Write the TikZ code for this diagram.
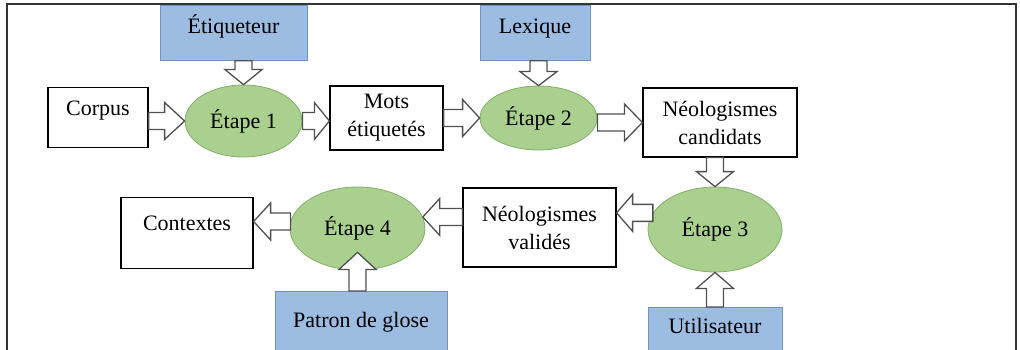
\documentclass[tikz,border=0pt]{standalone}
\usepackage{fontspec}
\setmainfont{Liberation Serif}
\usetikzlibrary{shapes.geometric,calc}
\definecolor{bfill}{HTML}{9DBCE2}
\definecolor{bdraw}{HTML}{6F93C2}
\definecolor{gfill}{HTML}{A9D08E}
\definecolor{gdraw}{HTML}{84AE66}
\definecolor{adraw}{HTML}{505050}
\definecolor{fdraw}{HTML}{333333}
\newcommand\blockarrow[3][17]{%
  \path let \p1=(#2), \p2=(#3), \n1={atan2(\y2-\y1,\x2-\x1)}, \n2={veclen(\x2-\x1,\y2-\y1)} in
    \pgfextra{\xdef\baang{\n1}\xdef\balen{\n2}\xdef\bax{\x1}\xdef\bay{\y1}};
  \begin{scope}[shift={(\bax,\bay)},rotate=\baang]
    \draw[hollowarrow] (0pt,-8.5pt) -- ({\balen-#1pt},-8.5pt) -- ({\balen-#1pt},-18.5pt)
      -- ({\balen},0pt) -- ({\balen-#1pt},18.5pt) -- ({\balen-#1pt},8.5pt) -- (0pt,8.5pt) -- cycle;
  \end{scope}}
\tikzset{
  wbox/.style={draw=black, line width=1.2pt, fill=white, inner sep=0pt, align=center},
  bbox/.style={draw=bdraw, line width=0.8pt, fill=bfill, inner sep=0pt, align=center},
  etapenode/.style={ellipse, draw=gdraw, line width=0.8pt, fill=gfill, inner sep=0pt},
  hollowarrow/.style={draw=adraw, fill=white, line width=1.3pt, line join=miter},
  frameline/.style={draw=fdraw, line width=1.5pt}
}
\begin{document}
\begin{tikzpicture}[x=1pt, y=-1pt, font=\fontsize{22}{28}\selectfont]
\useasboundingbox (0,0) rectangle (1020,350);
\draw[frameline] (7,356) -- (7,4) -- (1016,4) -- (1016,356);
% blue resource boxes
\node[bbox, minimum width=147pt, text height=27.5pt, text depth=27pt, anchor=north] (etiq) at (233.5,5.5) {Étiqueteur};
\node[bbox, minimum width=110pt, text height=27.5pt, text depth=27pt, anchor=north] (lex) at (535,5.5) {Lexique};
\node[bbox, minimum width=172pt, text height=36pt, text depth=25pt, anchor=north] (patron) at (361,291) {Patron de glose};
\node[bbox, minimum width=134pt, text height=26pt, text depth=19pt, anchor=north] (util) at (715,307) {Utilisateur};
% white boxes
\node[wbox, minimum width=100pt, text height=28pt, text depth=32pt, anchor=north] (corpus) at (98,87) {Corpus};
\node[wbox, minimum width=113pt, minimum height=64pt] (mots) at (386.5,118) {Mots\\étiquetés};
\node[wbox, minimum width=154pt, minimum height=69pt] (neoc) at (720,122.5) {Néologismes\\candidats};
\node[wbox, minimum width=153pt, minimum height=79pt] (neov) at (539.5,227.5) {Néologismes\\validés};
\node[wbox, minimum width=132pt, text height=33pt, text depth=38pt, anchor=north] (ctx) at (187,197) {Contextes};
% steps
\node[etapenode, minimum width=117pt, minimum height=72pt] (e1) at (243.5,121) {Étape 1};
\node[etapenode, minimum width=117pt, minimum height=64pt] (e2) at (538.5,118) {Étape 2};
\node[etapenode, minimum width=134pt, minimum height=85pt] (e3) at (715,229.5) {Étape 3};
\node[etapenode, minimum width=135pt, minimum height=83pt] (e4) at (357.5,228.5) {Étape 4};
% connectors
\blockarrow[15]{etiq.south -| e1.north}{e1.north}
\blockarrow[14]{lex.south -| e2.north}{e2.north}
\blockarrow[20]{corpus.east |- e1.west}{e1.west}
\blockarrow[15]{e1.east}{mots.west |- e1.east}
\blockarrow[17]{mots.east |- e2.west}{e2.west}
\blockarrow[18]{e2.east |- neoc.west}{neoc.west}
\blockarrow[15]{neoc.south -| e3.north}{e3.north}
\blockarrow[16]{util.north -| e3.south}{e3.south}
\blockarrow[16]{e3.165}{neov.east |- e3.165}
\blockarrow[17]{neov.west |- e4.10}{e4.10}
\blockarrow[17]{e4.174}{ctx.east |- e4.174}
\blockarrow[17]{patron.north -| e4.south}{$(e4.south)+(0,-18)$}
\end{tikzpicture}
\end{document}
